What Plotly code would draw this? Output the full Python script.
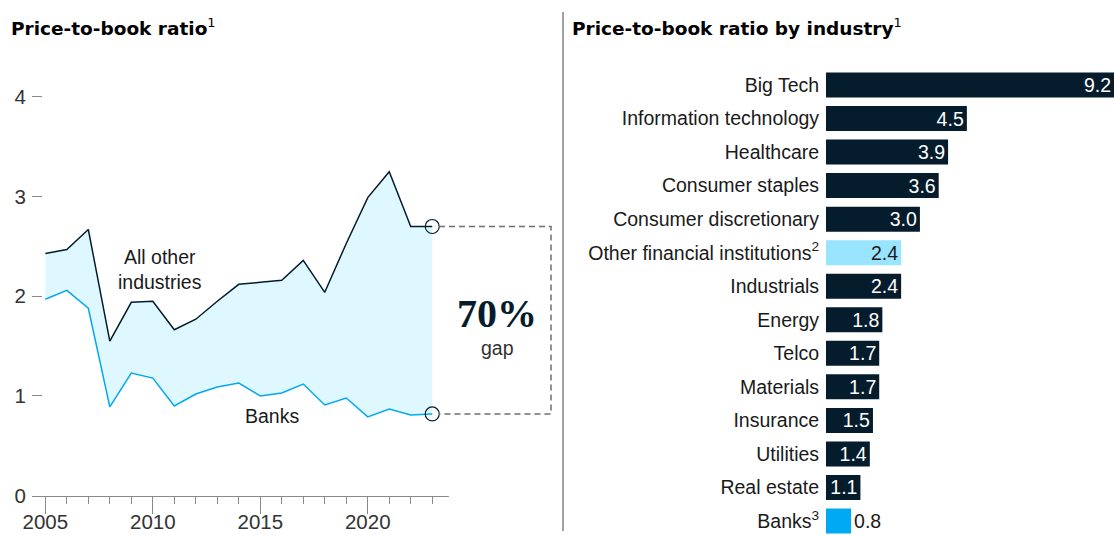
import plotly.graph_objects as go

# ---- data ----
years = list(range(2005, 2024))
other_industries = [2.43, 2.47, 2.67, 1.55, 1.94, 1.95, 1.665, 1.77, 1.95, 2.12,
                    2.14, 2.16, 2.36, 2.04, 2.53, 2.99, 3.25, 2.70, 2.70]
banks = [1.97, 2.06, 1.88, 0.89, 1.23, 1.18, 0.90, 1.02, 1.09, 1.13,
         1.00, 1.03, 1.12, 0.91, 0.98, 0.79, 0.87, 0.81, 0.82]

industries = ["Big Tech", "Information technology", "Healthcare", "Consumer staples",
              "Consumer discretionary", "Other financial institutions<sup>2</sup>",
              "Industrials", "Energy", "Telco", "Materials", "Insurance", "Utilities",
              "Real estate", "Banks<sup>3</sup>"]
pb_values = [9.2, 4.5, 3.9, 3.6, 3.0, 2.4, 2.4, 1.8, 1.7, 1.7, 1.5, 1.4, 1.1, 0.8]
y_ticks = [0, 1, 2, 3, 4]

# ---- styling ----
W, H = 1114, 535
NAVY = "#051c2c"
CYAN = "#00a9f4"
LIGHT = "#99e4ff"
FILL = "#dff7fe"
TXT = "#1a1a1a"
FONT = "Liberation Sans"
TITLE_FONT = "DejaVu Sans"


def px(x):
    return x / W


def py(y):
    return 1 - y / H


bar_colors = []
text_colors = []
text_pos = []
for name in industries:
    if name.startswith("Other financial"):
        bar_colors.append(LIGHT)
        text_colors.append(TXT)
        text_pos.append("inside")
    elif name.startswith("Banks"):
        bar_colors.append(CYAN)
        text_colors.append(TXT)
        text_pos.append("outside")
    else:
        bar_colors.append(NAVY)
        text_colors.append("white")
        text_pos.append("inside")

fig = go.Figure()

fig.add_trace(go.Scatter(x=years, y=banks, mode="lines",
                         line=dict(color=CYAN, width=1.5),
                         xaxis="x", yaxis="y", hoverinfo="skip"))
fig.add_trace(go.Scatter(x=years, y=other_industries, mode="lines",
                         line=dict(color=NAVY, width=1.5),
                         fill="tonexty", fillcolor=FILL,
                         xaxis="x", yaxis="y", hoverinfo="skip"))
fig.add_trace(go.Scatter(x=[years[-1], years[-1]], y=[other_industries[-1], banks[-1]],
                         mode="markers",
                         marker=dict(symbol="circle-open", size=14, color=NAVY,
                                     line=dict(width=1.2)),
                         cliponaxis=False, xaxis="x", yaxis="y", hoverinfo="skip"))

fig.add_trace(go.Bar(y=industries, x=pb_values, orientation="h",
                     marker=dict(color=bar_colors, line=dict(width=0)),
                     width=0.745,
                     text=[f"{v:.1f}" for v in pb_values],
                     textposition=text_pos, insidetextanchor="end",
                     textfont=dict(color=text_colors, size=19.5, family=FONT),
                     constraintext="none", cliponaxis=False,
                     xaxis="x2", yaxis="y2", hoverinfo="skip"))

axis_grey = "#8a8a8a"
fig.update_layout(
    autosize=True,
    margin=dict(l=0, r=0, t=0, b=0, pad=0),
    paper_bgcolor="white", plot_bgcolor="white",
    showlegend=False,
    font=dict(family=FONT, size=19, color=TXT),
    xaxis=dict(domain=[px(32), px(449)], range=[2004.38, 2023.78],
               tick0=2005, dtick=5, ticks="outside", ticklen=17, tickcolor=axis_grey,
               tickwidth=1, ticklabelstandoff=-9,
               minor=dict(tick0=2005, dtick=1, ticks="outside", ticklen=7,
                          tickcolor=axis_grey, tickwidth=1, showgrid=False),
               showline=True, linecolor=axis_grey, linewidth=1,
               showgrid=False, zeroline=False, automargin=False,
               tickfont=dict(size=20.5, color="#333333"), anchor="y"),
    yaxis=dict(domain=[py(495.7), py(55)], range=[0, 4.42],
               tickvals=y_ticks, ticks="inside", ticklen=10, tickcolor=axis_grey,
               ticklabelstandoff=5,
               showline=False, showgrid=False, zeroline=False, automargin=False,
               tickfont=dict(size=20.5, color="#333333"), anchor="x"),
    xaxis2=dict(domain=[px(826), 1], range=[0, 9.2], visible=False,
                automargin=False, anchor="y2"),
    yaxis2=dict(domain=[0, py(60)], type="category",
                categoryorder="array", categoryarray=industries,
                range=[13.417, -0.745], ticks="outside", ticklen=2,
                tickcolor="rgba(0,0,0,0)", showline=False, showgrid=False,
                zeroline=False, automargin=False,
                tickfont=dict(size=19.5, color=TXT), anchor="x2"),
)

annotations = [
    dict(text="<b>Price-to-book ratio</b><sup>1</sup>", x=px(9), y=py(27),
         xanchor="left", yanchor="middle",
         font=dict(size=18.5, color="#000000", family=TITLE_FONT)),
    dict(text="<b>Price-to-book ratio by industry</b><sup>1</sup>", x=px(570), y=py(27),
         xanchor="left", yanchor="middle",
         font=dict(size=18.5, color="#000000", family=TITLE_FONT)),
    dict(text="All other<br>industries", x=px(160), y=py(270),
         xanchor="center", yanchor="middle", font=dict(size=19.5, color=TXT)),
    dict(text="Banks", x=px(272), y=py(416),
         xanchor="center", yanchor="middle", font=dict(size=19.5, color=TXT)),
    dict(text="<b>70%</b>", x=px(497), y=py(313),
         xanchor="center", yanchor="middle",
         font=dict(size=40, color=NAVY, family="Liberation Serif")),
    dict(text="gap", x=px(497), y=py(348),
         xanchor="center", yanchor="middle", font=dict(size=19.5, color="#333333")),
]
for a in annotations:
    a.update(xref="paper", yref="paper", showarrow=False)
fig.update_layout(annotations=annotations)

x_left, x_right = px(439), px(551)
shapes = [
    dict(type="path", xref="paper", yref="y",
         path=(f"M {x_left},{other_industries[-1]} L {x_right},{other_industries[-1]} "
               f"L {x_right},{banks[-1]} L {x_left},{banks[-1]}"),
         line=dict(color="#6e6e6e", width=1.5, dash="6px,4px")),
    dict(type="line", xref="paper", yref="paper",
         x0=px(563), x1=px(563), y0=py(12), y1=py(531),
         line=dict(color="#444444", width=1)),
]
fig.update_layout(shapes=shapes)

fig.write_html(
    "out.html",
    config={"displayModeBar": False, "responsive": True},
    default_width="100vw",
    default_height="100vh",
    post_script=(
        "document.documentElement.style.margin='0';"
        "document.documentElement.style.padding='0';"
        "document.documentElement.style.overflow='hidden';"
        "document.body.style.margin='0';"
        "document.body.style.padding='0';"
        "document.body.style.overflow='hidden';"
        "var gd=document.getElementById('{plot_id}');"
        "gd.style.width='100vw';gd.style.height='100vh';"
        "Plotly.Plots.resize(gd);"
    ),
)
